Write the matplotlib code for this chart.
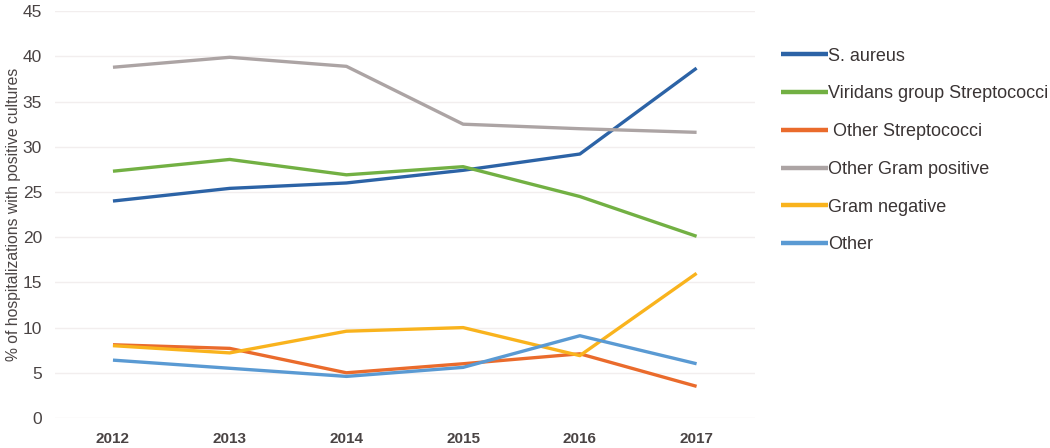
import matplotlib.pyplot as plt

plt.rcParams['font.family'] = ['Liberation Sans', 'DejaVu Sans']

years = ['2012', '2013', '2014', '2015', '2016', '2017']

s_aureus = [24.0, 25.4, 26.0, 27.4, 29.2, 38.7]
viridans = [27.3, 28.6, 26.9, 27.8, 24.5, 20.1]
other_strep = [8.1, 7.7, 5.0, 6.0, 7.1, 3.5]
other_gram_pos = [38.8, 39.9, 38.9, 32.5, 32.0, 31.6]
gram_neg = [8.0, 7.2, 9.6, 10.0, 6.9, 16.0]
other = [6.4, 5.5, 4.6, 5.6, 9.1, 6.0]

series = [
    ('S. aureus', s_aureus, '#2C63A6'),
    ('Viridans group Streptococci', viridans, '#72B043'),
    (' Other Streptococci', other_strep, '#EA6B2C'),
    ('Other Gram positive', other_gram_pos, '#ACA4A4'),
    ('Gram negative', gram_neg, '#F9B31D'),
    ('Other', other, '#5A9AD3'),
]

fig = plt.figure(figsize=(10.5, 4.48), dpi=100)
ax = fig.add_axes([0.052, 0.067, 0.667, 0.908])

x = list(range(len(years)))
for label, values, color in series:
    ax.plot(x, values, color=color, linewidth=2.4, label=label,
            solid_capstyle='butt')

ax.set_xlim(-0.5, 5.5)
ax.set_ylim(0, 45)
ax.set_yticks(range(0, 46, 5))
ax.set_xticks(x)
ax.set_xticklabels(years, fontweight='bold')
ax.tick_params(axis='both', length=0, colors='#4A4444')
ax.tick_params(axis='x', pad=10, labelsize=11)
ax.tick_params(axis='y', pad=9, labelsize=12.5)
ax.grid(axis='y', color='#F2EEEE', linewidth=1)
ax.set_axisbelow(True)
for spine in ax.spines.values():
    spine.set_visible(False)

ax.set_ylabel('% of hospitalizations with positive cultures', fontsize=11.3,
              color='#4A4444', labelpad=1)

leg = fig.legend(loc='upper left', bbox_to_anchor=(0.728, 0.93), frameon=False,
                 fontsize=13, handlelength=2.6, handletextpad=0.05,
                 labelspacing=1.15, labelcolor='#3A3434')
for line in leg.get_lines():
    line.set_linewidth(3.2)

fig.savefig('out.png', dpi=100)
